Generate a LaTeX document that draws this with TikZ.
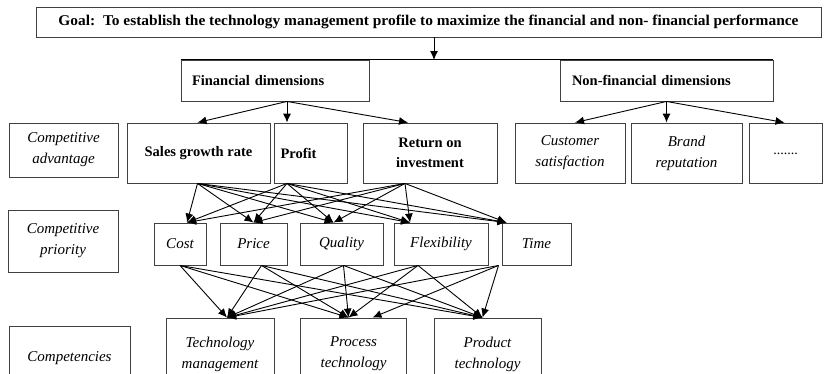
\documentclass[tikz,border=0pt]{standalone}
\usepackage{fontspec}
\setmainfont{Liberation Serif}
\usepackage{graphicx}
\usetikzlibrary{arrows.meta,calc}
\tikzset{>={Latex[length=9pt,width=8pt]}}
\tikzset{
  box/.style={draw=black!75,line width=0.9pt,inner sep=0pt,align=center},
  bbox/.style={box,font=\fontsize{14.5}{20}\selectfont\bfseries},
  ibox/.style={box,font=\fontsize{15}{21}\selectfont\itshape},
  link/.style={->,line width=0.9pt},
}

\begin{document}
\begin{tikzpicture}[x=1pt,y=-1pt]
    \useasboundingbox (0,0) rectangle (824,373);
    \clip (0,0) rectangle (824,373);
    % goal and the two dimensions
    \node[box,minimum width=785,minimum height=30] (goal) at (428.5,22)
    {\resizebox{740pt}{10.5pt}{\bfseries Goal:\ \ To establish the technology management profile to maximize the financial and non- financial performance}};
    \node[bbox,minimum width=188,minimum height=41,text width=166,align=left] (fin) at (275,80.5) {Financial dimensions};
    \node[bbox,minimum width=213,minimum height=41,text width=189,align=left] (nonfin) at (666.5,80.5) {Non-financial dimensions};
    \draw[line width=0.9pt] (fin.north west) -- (nonfin.north east);
    \draw[link] (goal.south -| 434,0) -- (434,60);
    % competitive advantage
    \node[ibox,minimum width=109,minimum height=54] (adv) at (63.5,150) {Competitive\\advantage};
    \node[bbox,minimum width=143,minimum height=60] (sales) at (198.5,153) {Sales growth rate};
    \node[bbox,minimum width=73,minimum height=60,text width=60,align=left] (profit) at (310.5,153) {Profit};
    \node[bbox,minimum width=134,minimum height=60] (roi) at (430,153) {Return on\\investment};
    \node[ibox,minimum width=110,minimum height=60] (cust) at (570,153) {Customer\\satisfaction};
    \node[ibox,minimum width=111,minimum height=60] (brand) at (686.5,153) {Brand\\reputation};
    \node[box,minimum width=73,minimum height=60,font=\fontsize{14}{16}\selectfont] (more) at (785.5,153) {\raisebox{-3pt}{.......}};
    \draw[link] ([xshift=12pt]fin.south) -- ([xshift=-1pt]sales.north);
    \draw[link] ([xshift=12pt]fin.south) -- ([xshift=-23.5pt]profit.north);
    \draw[link] ([xshift=12pt]fin.south) -- ([xshift=-22pt]roi.north);
    \draw[link] (nonfin.south) -- ([xshift=5pt]cust.north);
    \draw[link] (nonfin.south) -- (nonfin.south |- brand.north);
    \draw[link] (nonfin.south) -- ([xshift=-1pt]more.north);
    % competitive priority
    \node[ibox,minimum width=110,minimum height=62] (pri) at (63,241) {Competitive\\priority};
    \node[ibox,minimum width=52,minimum height=42] (cost) at (180,244) {Cost};
    \node[ibox,minimum width=67,minimum height=42] (price) at (253.5,244) {Price};
    \node[ibox,minimum width=83,minimum height=42] (quality) at (341.5,244) {Quality};
    \node[ibox,minimum width=94,minimum height=42] (flex) at (441,244) {Flexibility};
    \node[ibox,minimum width=69,minimum height=42] (time) at (536.5,244) {Time};
    \foreach \s/\a in {sales/-1,profit/-23.5,roi/-25}
      \foreach \t/\b in {cost/7,price/0,quality/-8,flex/-31,time/-30}
        \draw[link] ([xshift=\a pt]\s.south) -- ([xshift=\b pt]\t.north);
    % competencies
    \node[ibox,minimum width=121,minimum height=64] (comp) at (69.5,358) {Competencies};
    \node[ibox,minimum width=108,minimum height=72] (tech) at (220,354) {Technology\\management};
    \node[ibox,minimum width=106,minimum height=72] (proc) at (353.5,354) {Process\\technology};
    \node[ibox,minimum width=107,minimum height=72] (prod) at (487.5,354) {Product\\technology};
    \foreach \s/\a in {cost/0,price/8,quality/2,flex/-23}
      \foreach \t/\b in {tech/7,proc/-5,prod/-5}
        \draw[link] ([xshift=\a pt]\s.south) -- ([xshift=\b pt]\t.north);
    \foreach \t/\b in {tech/7,proc/19,prod/-5}
      \draw[link] ([xshift=-38pt]time.south) -- ([xshift=\b pt]\t.north);
  \end{tikzpicture}
\end{document}
